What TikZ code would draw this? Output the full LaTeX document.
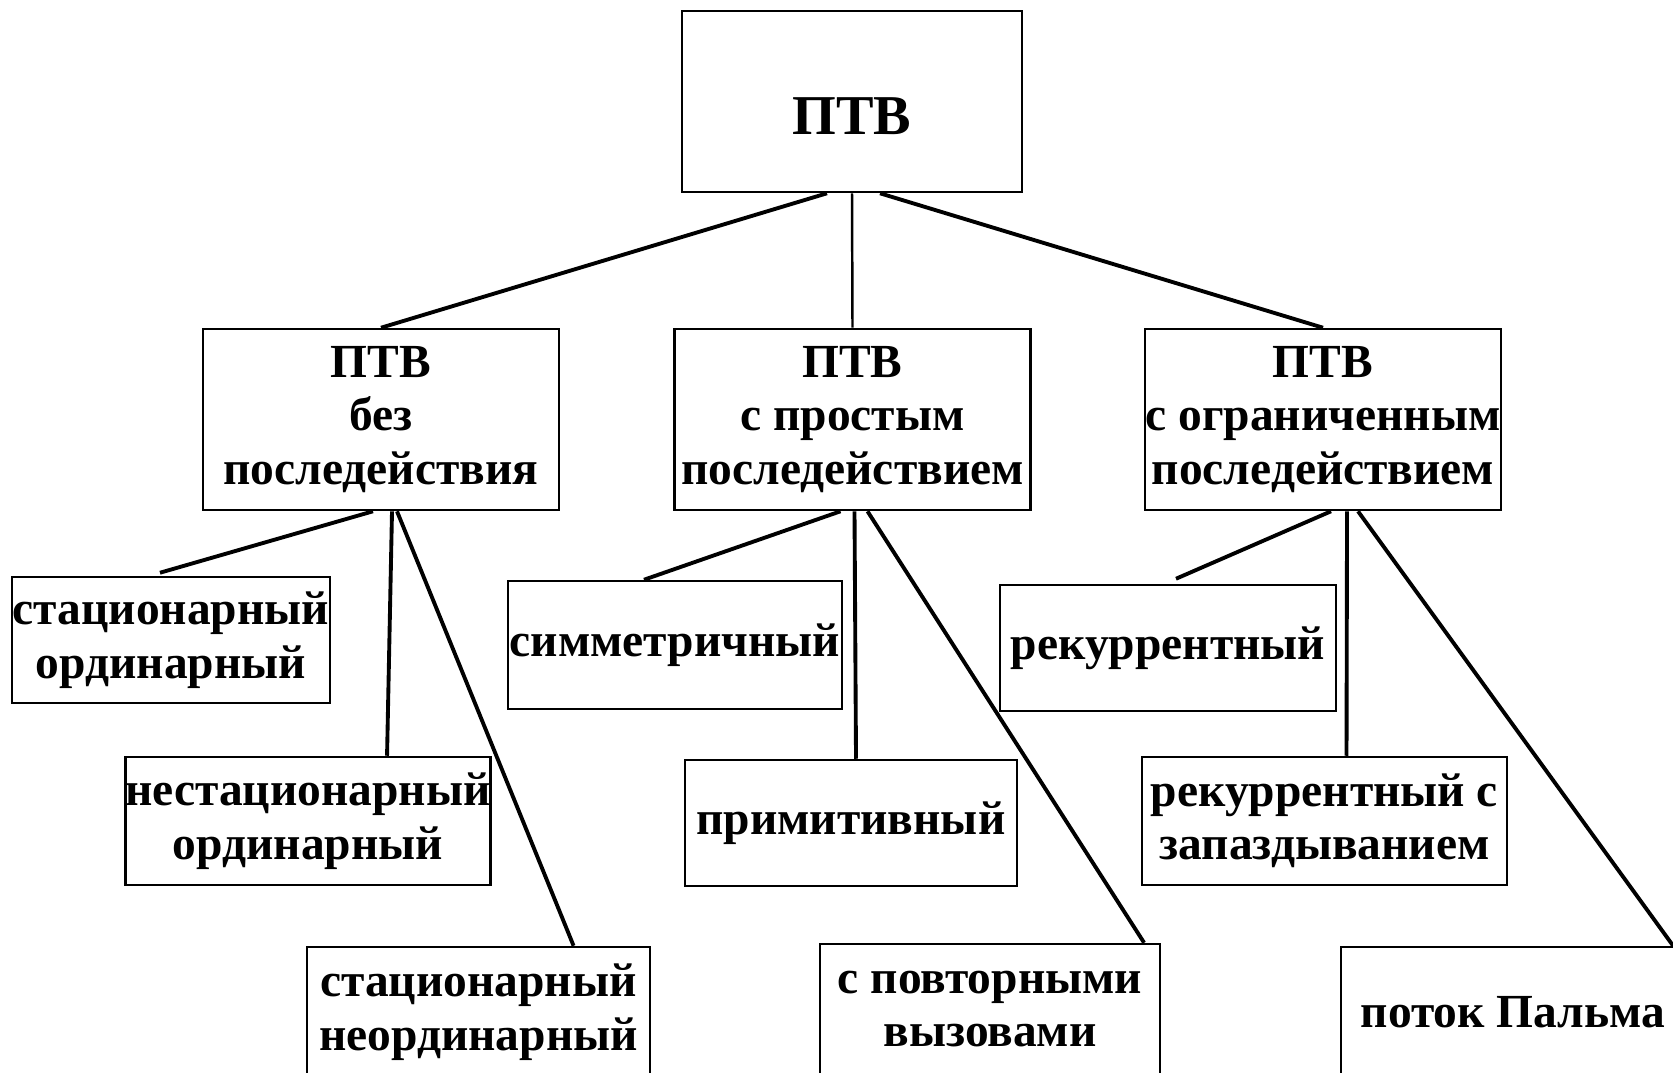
\documentclass[tikz,border=0pt]{standalone}
\usepackage{fontspec}
\setmainfont{Liberation Serif}

\begin{document}
\begin{tikzpicture}[x=0.01cm,y=-0.01cm,
	  box/.style={draw=black,line width=0.7pt,inner sep=0pt,align=center,
	    font=\bfseries\fontsize{13.5}{15.2}\selectfont},
	  link/.style={black,line width=1.1pt}]
	   \path [use as bounding box,clip] (0,0) rectangle (1673,1072);
	   \node (ptv) at (852,101.5)
	     [box,minimum width=3.4cm,minimum height=1.81cm,
	      text height=0.66cm,text depth=0cm,
	      font=\bfseries\fontsize{16}{18}\selectfont] {ПТВ};
	   \foreach \n/\x/\t in {bez/381/{ПТВ\\без\\последействия},
	       prost/852.5/{ПТВ\\с простым\\последействием},
	       ogr/1323/{ПТВ\\с ограниченным\\последействием}} {
	     \node (\n) at (\x,419.5)
	      [box,minimum width=3.56cm,minimum height=1.81cm] {\t};
	   }
	   \node (stord) at (171,640)
	     [box,minimum width=3.18cm,minimum height=1.26cm] {стационарный\\ординарный};
	   \node (nstord) at (308,821)
	     [box,minimum width=3.64cm,minimum height=1.28cm] {нестационарный\\ординарный};
	   \node (stneord) at (478.5,1012)
	     [box,minimum width=3.43cm,minimum height=1.3cm] {стационарный\\неординарный};
	   \node (simm) at (675,645)
	     [box,minimum width=3.34cm,minimum height=1.28cm] {симметричный};
	   \node (prim) at (851,823)
	     [box,minimum width=3.32cm,minimum height=1.26cm] {примитивный};
	   \node (povt) at (990,1009)
	     [box,minimum width=3.4cm,minimum height=1.3cm] {с повторными\\вызовами};
	   \node (rek) at (1168,648)
	     [box,minimum width=3.36cm,minimum height=1.26cm] {рекуррентный};
	   \node (rekzap) at (1324.5,821)
	     [box,minimum width=3.65cm,minimum height=1.28cm] {рекуррентный с\\запаздыванием};
	   \node (palm) at (1513,1012)
	     [box,minimum width=3.44cm,minimum height=1.3cm] {поток Пальма};
	   \draw [link]
	     ([xshift=-0.25cm]ptv.south) -- (bez.north)
	     ([xshift=0.28cm]ptv.south) -- (ogr.north);
	   \draw [black,line width=0.7pt]
	     (ptv.south) -- (prost.north);
	   \draw [link]
	     ([xshift=-0.08cm]bez.south) -- ([xshift=-0.11cm,yshift=0.03cm]stord.north)
	     ([xshift=0.11cm]bez.south) -- ([xshift=0.79cm]nstord.north)
	     ([xshift=0.16cm]bez.south) -- ([xshift=0.95cm]stneord.north);
	   \draw [link]
	     ([xshift=-0.12cm]prost.south) -- ([xshift=-0.31cm]simm.north)
	     ([xshift=0.02cm]prost.south) -- ([xshift=0.05cm]prim.north)
	     ([xshift=0.15cm]prost.south) -- ([xshift=1.54cm]povt.north);
	   \draw [link]
	     ([xshift=0.08cm]ogr.south) -- ([xshift=0.08cm,yshift=0.05cm]rek.north)
	     ([xshift=0.24cm]ogr.south) -- ([xshift=0.22cm]rekzap.north)
	     ([xshift=0.35cm]ogr.south) -- ([xshift=1.6cm]palm.north);
\end{tikzpicture}
\end{document}
